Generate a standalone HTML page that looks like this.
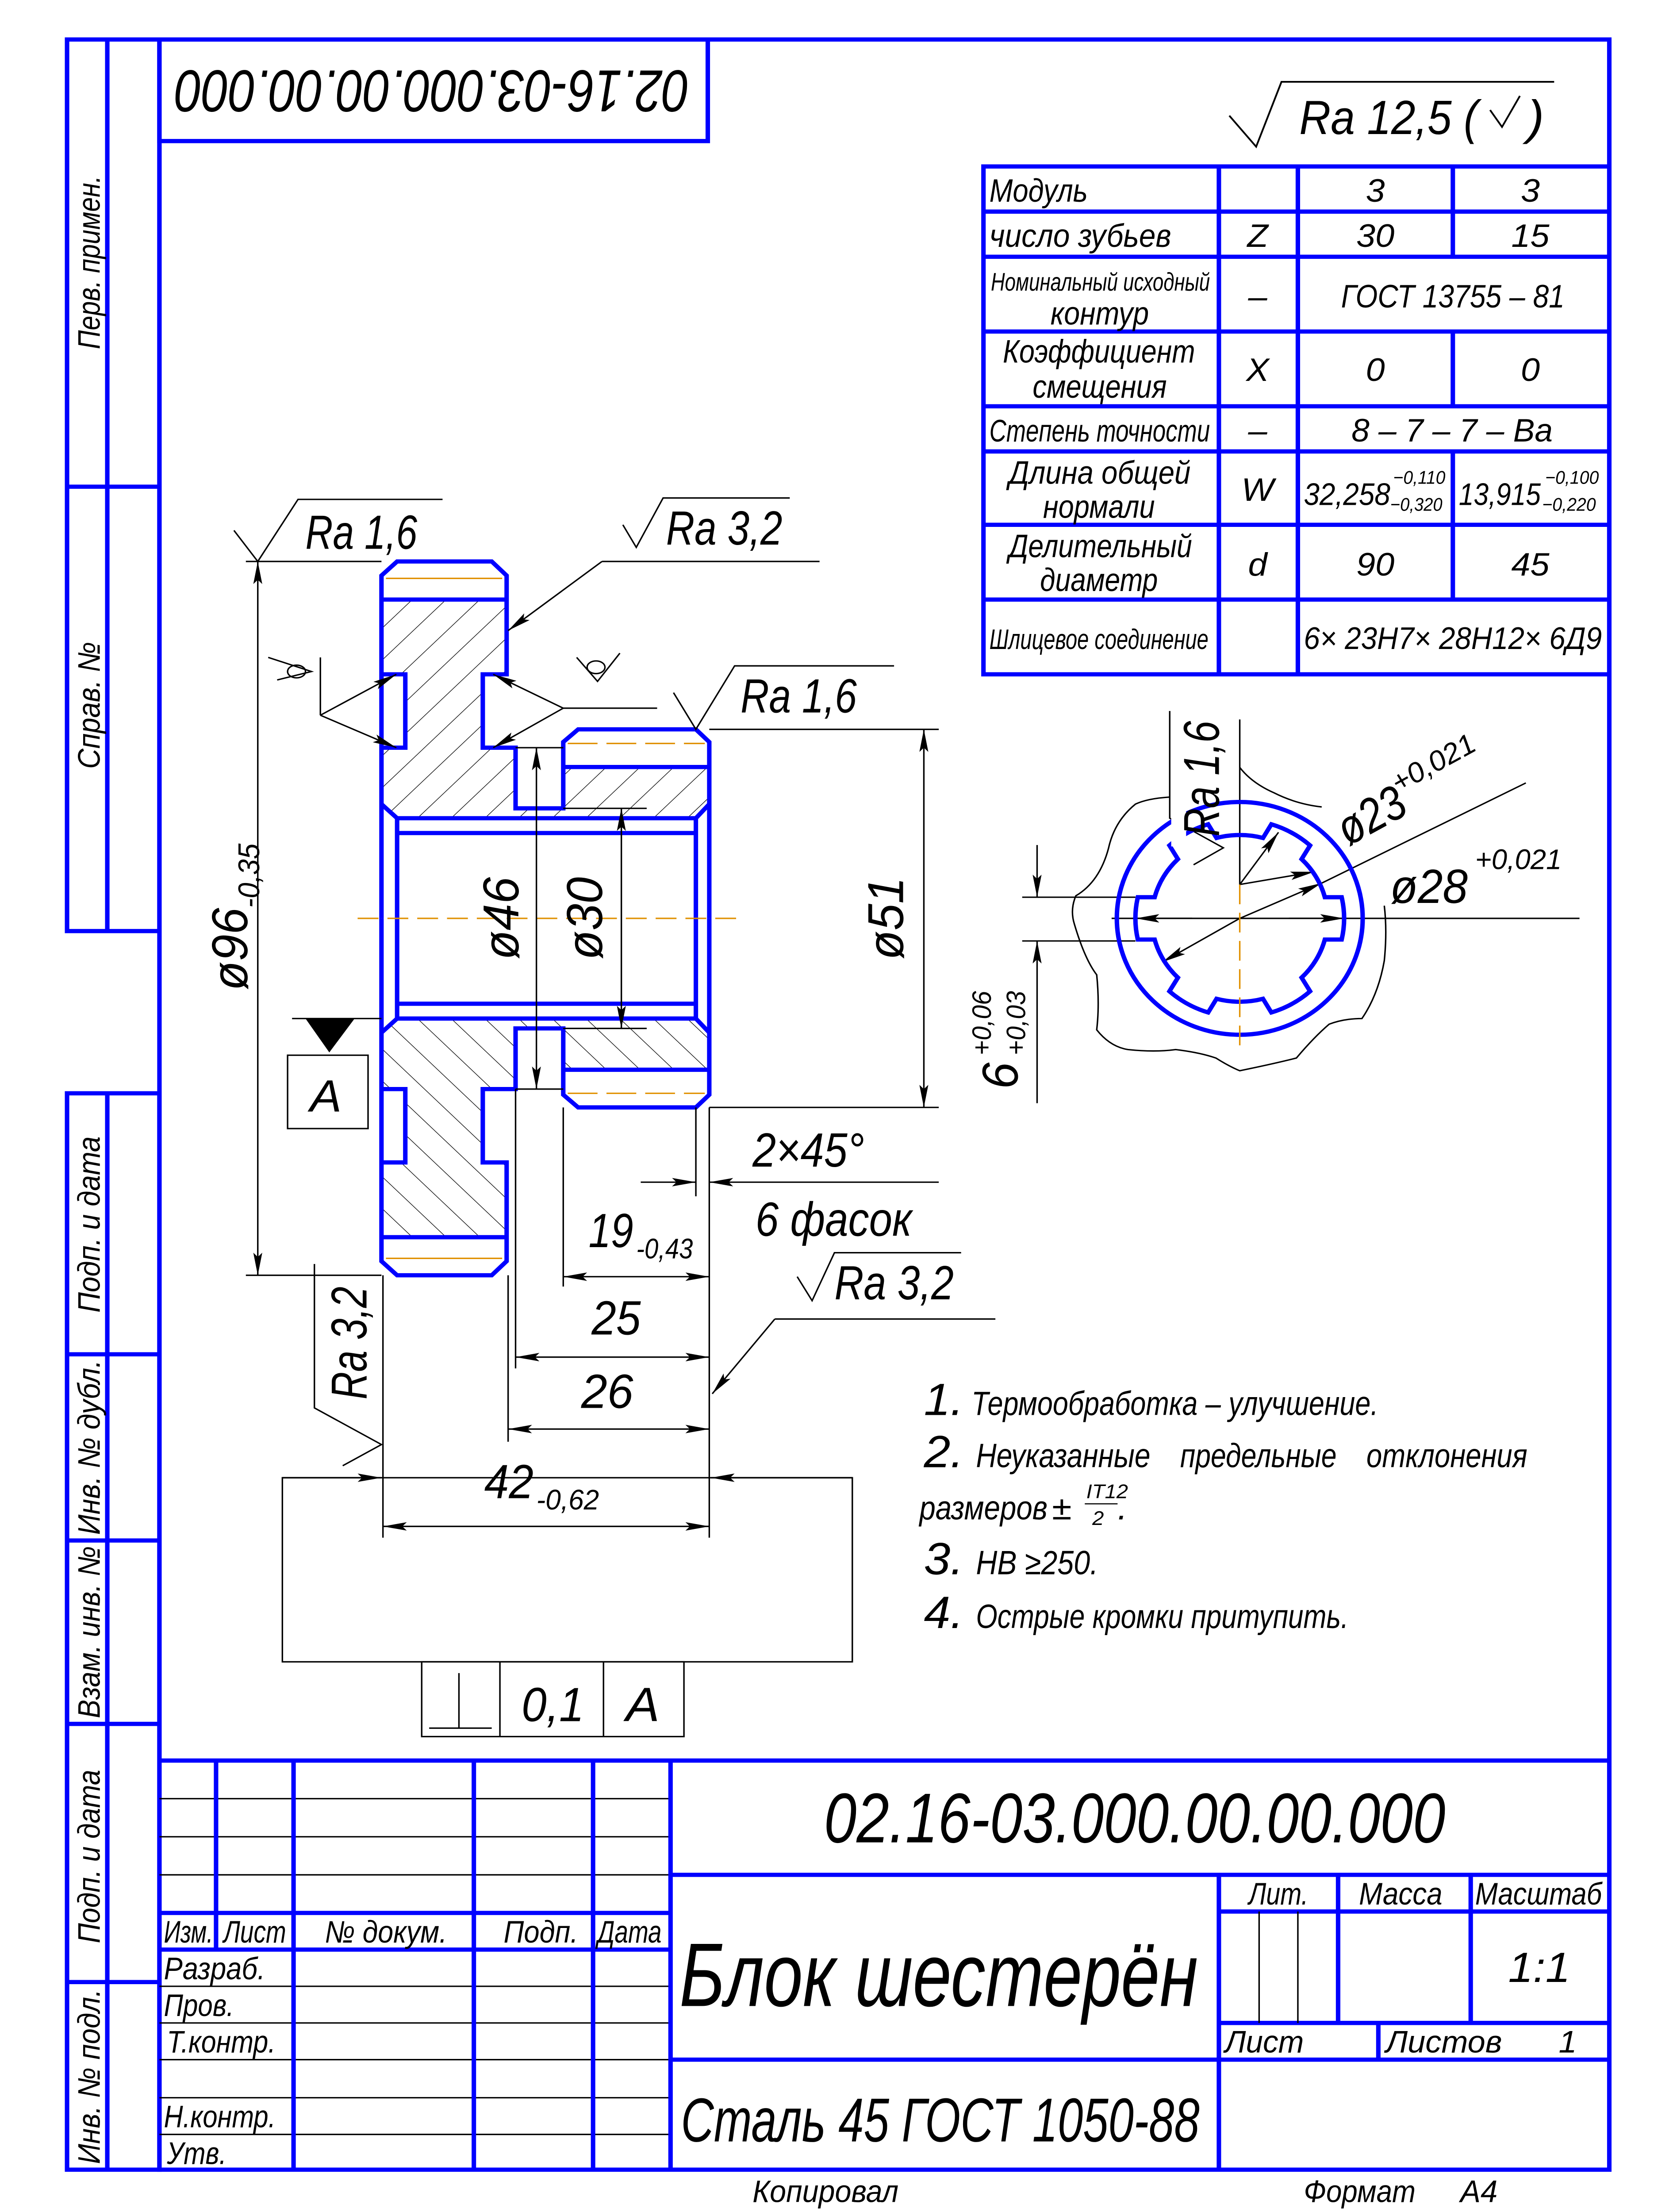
<!DOCTYPE html>
<html><head><meta charset="utf-8">
<style>
html,body{margin:0;padding:0;background:#fff;width:100vw;height:100vh;overflow:hidden;}
svg{display:block;width:100vw;height:100vh;}
text{font-family:"Liberation Sans Narrow","Liberation Sans","DejaVu Sans",sans-serif;font-style:italic;fill:#000;}
</style></head>
<body>
<svg xmlns="http://www.w3.org/2000/svg" viewBox="0 0 1110 1568" preserveAspectRatio="none">
<defs>
<marker id="ar" viewBox="0 0 16 6" refX="16" refY="3" markerWidth="16" markerHeight="6" markerUnits="userSpaceOnUse" orient="auto-start-reverse">
<path d="M0,0 L16,3 L0,6 L3,3 Z" fill="#000"/>
</marker>
<pattern id="h" patternUnits="userSpaceOnUse" width="16" height="16" patternTransform="rotate(45)">
<line x1="0" y1="0" x2="0" y2="16" stroke="#000" stroke-width="0.8"/>
</pattern>
</defs>
<rect width="1110" height="1568" fill="#fff"/>

<!-- FRAME -->
<g stroke="#0000ff" stroke-width="3" fill="none">
<rect x="107" y="28" width="973" height="1510"/>
<rect x="45" y="28" width="62" height="632"/>
<line x1="72" y1="28" x2="72" y2="660"/>
<line x1="45" y1="345" x2="107" y2="345"/>
<rect x="45" y="775" width="62" height="763"/>
<line x1="72" y1="775" x2="72" y2="1538"/>
<line x1="45" y1="960" x2="107" y2="960"/>
<line x1="45" y1="1092" x2="107" y2="1092"/>
<line x1="45" y1="1222" x2="107" y2="1222"/>
<line x1="45" y1="1405" x2="107" y2="1405"/>
<rect x="107" y="28" width="368" height="72"/>
</g>
<g font-size="21">
<text transform="translate(67,186) rotate(-90)" text-anchor="middle" textLength="123" lengthAdjust="spacingAndGlyphs">Перв. примен.</text>
<text transform="translate(67,500) rotate(-90)" text-anchor="middle" textLength="90" lengthAdjust="spacingAndGlyphs">Справ. №</text>
<text transform="translate(67,868) rotate(-90)" text-anchor="middle" textLength="125" lengthAdjust="spacingAndGlyphs">Подп. и дата</text>
<text transform="translate(67,1026) rotate(-90)" text-anchor="middle" textLength="124" lengthAdjust="spacingAndGlyphs">Инв. № дубл.</text>
<text transform="translate(67,1157) rotate(-90)" text-anchor="middle" textLength="122" lengthAdjust="spacingAndGlyphs">Взам. инв. №</text>
<text transform="translate(67,1316) rotate(-90)" text-anchor="middle" textLength="123" lengthAdjust="spacingAndGlyphs">Подп. и дата</text>
<text transform="translate(67,1472) rotate(-90)" text-anchor="middle" textLength="124" lengthAdjust="spacingAndGlyphs">Инв. № подл.</text>
</g>
<text transform="translate(290,50) rotate(180)" text-anchor="middle" font-size="42" textLength="345" lengthAdjust="spacingAndGlyphs">02.16-03.000.00.00.000</text>

<g stroke="#000" stroke-width="1.2" fill="none">
<polyline points="825,82 843,104 860,58 1043,58"/>
<polyline points="1000,78 1008,90 1020,68"/>
</g>
<text x="872" y="95" font-size="34" textLength="120" lengthAdjust="spacingAndGlyphs">Ra 12,5 (</text>
<text x="1025" y="95" font-size="34">)</text>

<!-- TABLE -->
<g stroke="#0000ff" stroke-width="3" fill="none">
<rect x="660" y="118" width="420" height="360"/>
<line x1="660" y1="150" x2="1080" y2="150"/>
<line x1="660" y1="182" x2="1080" y2="182"/>
<line x1="660" y1="235" x2="1080" y2="235"/>
<line x1="660" y1="288" x2="1080" y2="288"/>
<line x1="660" y1="320" x2="1080" y2="320"/>
<line x1="660" y1="372" x2="1080" y2="372"/>
<line x1="660" y1="425" x2="1080" y2="425"/>
<line x1="818" y1="118" x2="818" y2="478"/>
<line x1="871" y1="118" x2="871" y2="478"/>
<line x1="975" y1="118" x2="975" y2="182"/>
<line x1="975" y1="235" x2="975" y2="288"/>
<line x1="975" y1="320" x2="975" y2="425"/>
</g>
<g font-size="23">
<text x="664" y="143" textLength="66" lengthAdjust="spacingAndGlyphs">Модуль</text>
<text x="923" y="143" text-anchor="middle">3</text>
<text x="1027" y="143" text-anchor="middle">3</text>
<text x="664" y="175" textLength="122" lengthAdjust="spacingAndGlyphs">число зубьев</text>
<text x="844" y="175" text-anchor="middle">Z</text>
<text x="923" y="175" text-anchor="middle">30</text>
<text x="1027" y="175" text-anchor="middle">15</text>
<text x="665" y="206" font-size="18" textLength="147" lengthAdjust="spacingAndGlyphs">Номинальный исходный</text>
<text x="705" y="230" textLength="66" lengthAdjust="spacingAndGlyphs">контур</text>
<text x="844" y="218" text-anchor="middle">–</text>
<text x="900" y="218" textLength="150" lengthAdjust="spacingAndGlyphs">ГОСТ 13755 – 81</text>
<text x="673" y="257" textLength="129" lengthAdjust="spacingAndGlyphs">Коэффициент</text>
<text x="693" y="282" textLength="90" lengthAdjust="spacingAndGlyphs">смещения</text>
<text x="844" y="270" text-anchor="middle">X</text>
<text x="923" y="270" text-anchor="middle">0</text>
<text x="1027" y="270" text-anchor="middle">0</text>
<text x="664" y="313" font-size="22" textLength="148" lengthAdjust="spacingAndGlyphs">Степень точности</text>
<text x="844" y="313" text-anchor="middle">–</text>
<text x="907" y="313" textLength="135" lengthAdjust="spacingAndGlyphs">8 – 7 – 7 – Ва</text>
<text x="677" y="343" textLength="122" lengthAdjust="spacingAndGlyphs">Длина общей</text>
<text x="700" y="367" textLength="75" lengthAdjust="spacingAndGlyphs">нормали</text>
<text x="844" y="355" text-anchor="middle">W</text>
<text x="875" y="358" font-size="22" textLength="58" lengthAdjust="spacingAndGlyphs">32,258</text>
<text x="935" y="343" font-size="13" textLength="35" lengthAdjust="spacingAndGlyphs">−0,110</text>
<text x="933" y="362" font-size="13" textLength="35" lengthAdjust="spacingAndGlyphs">−0,320</text>
<text x="979" y="358" font-size="22" textLength="55" lengthAdjust="spacingAndGlyphs">13,915</text>
<text x="1037" y="343" font-size="13" textLength="36" lengthAdjust="spacingAndGlyphs">−0,100</text>
<text x="1035" y="362" font-size="13" textLength="36" lengthAdjust="spacingAndGlyphs">−0,220</text>
<text x="677" y="395" textLength="123" lengthAdjust="spacingAndGlyphs">Делительный</text>
<text x="698" y="419" textLength="79" lengthAdjust="spacingAndGlyphs">диаметр</text>
<text x="844" y="408" text-anchor="middle">d</text>
<text x="923" y="408" text-anchor="middle">90</text>
<text x="1027" y="408" text-anchor="middle">45</text>
<text x="664" y="460" font-size="20" textLength="147" lengthAdjust="spacingAndGlyphs">Шлицевое соединение</text>
<text x="875" y="460" font-size="22" textLength="200" lengthAdjust="spacingAndGlyphs">6× 23H7× 28H12× 6Д9</text>
</g>

<!-- PART DRAWING -->
<g id="half">
<path d="M256,425 L340,425 L340,478 L324,478 L324,530 L346,530 L346,573 L378,573 L378,543.7 L476,543.7 L476,570 L467,580 L266.5,580 L256,570 L256,530 L272,530 L272,478 L256,478 Z" fill="url(#h)"/>
<g stroke="#0000ff" stroke-width="3" fill="none" stroke-linejoin="miter">
<polyline points="256,651 256,408 266.5,398 330,398 340,408 340,478 324,478 324,530 346,530 346,573 378,573 378,526 388,517 467,517 476,526 476,651"/>
<polyline points="256,478 272,478 272,530 256,530"/>
<line x1="256" y1="425" x2="340" y2="425"/>
<line x1="378" y1="543.7" x2="476" y2="543.7"/>
<line x1="256" y1="570" x2="266.5" y2="580"/>
<line x1="476" y1="570" x2="467" y2="580"/>
<line x1="266.5" y1="580" x2="467" y2="580"/>
<line x1="266.5" y1="590.5" x2="467" y2="590.5"/>
<line x1="266.5" y1="580" x2="266.5" y2="651"/>
<line x1="467" y1="580" x2="467" y2="651"/>
</g>
<line x1="259" y1="410" x2="337" y2="410" stroke="#e09000" stroke-width="1"/>
<line x1="381" y1="527" x2="473" y2="527" stroke="#e09000" stroke-width="1" stroke-dasharray="20,6"/>
</g>
<use href="#half" transform="matrix(1,0,0,-1,0,1302)"/>
<line x1="240" y1="651" x2="495" y2="651" stroke="#e09000" stroke-width="1" stroke-dasharray="14,6"/>

<g stroke="#000" stroke-width="1" fill="none">
<line x1="165" y1="398" x2="256" y2="398"/>
<line x1="165" y1="904" x2="256" y2="904"/>
<line x1="173" y1="398" x2="173" y2="904" marker-start="url(#ar)" marker-end="url(#ar)"/>
<polyline points="157,376 173,398 200,354 297,354"/>
<polyline points="418,372 427,388 445,353 530,353"/>
<polyline points="550,398 404,398" />
<line x1="404" y1="398" x2="341" y2="447" marker-end="url(#ar)"/>
<line x1="215" y1="466" x2="215" y2="507"/>
<line x1="215" y1="507" x2="266" y2="478" marker-end="url(#ar)"/>
<line x1="215" y1="507" x2="266" y2="530" marker-end="url(#ar)"/>
<polyline points="180,466 209,476 186,482"/>
<ellipse cx="199" cy="476" rx="6" ry="4.5"/>
<line x1="441" y1="502" x2="378" y2="502"/>
<line x1="378" y1="502" x2="331" y2="478" marker-end="url(#ar)"/>
<line x1="378" y1="502" x2="331" y2="530" marker-end="url(#ar)"/>
<polyline points="387,466 401,483 416,463"/>
<ellipse cx="400" cy="473" rx="6" ry="4.5"/>
<polyline points="452,491 467,517 493,472 600,472"/>
<line x1="476" y1="517" x2="630" y2="517"/>
<line x1="476" y1="785" x2="630" y2="785"/>
<line x1="620" y1="517" x2="620" y2="785" marker-start="url(#ar)" marker-end="url(#ar)"/>
<line x1="346" y1="530" x2="378" y2="530"/>
<line x1="346" y1="772" x2="378" y2="772"/>
<line x1="360" y1="530" x2="360" y2="772" marker-start="url(#ar)" marker-end="url(#ar)"/>
<line x1="378" y1="573" x2="434" y2="573"/>
<line x1="378" y1="729" x2="434" y2="729"/>
<line x1="417" y1="573" x2="417" y2="729" marker-start="url(#ar)" marker-end="url(#ar)"/>
<line x1="196" y1="722" x2="256" y2="722"/>
<rect x="193" y="748" width="54" height="52"/>
<line x1="467" y1="785" x2="467" y2="848"/>
<line x1="476" y1="785" x2="476" y2="1090"/>
<line x1="430" y1="838" x2="467" y2="838" marker-end="url(#ar)"/>
<line x1="630" y1="838" x2="476" y2="838" marker-end="url(#ar)"/>
<line x1="378" y1="785" x2="378" y2="912"/>
<line x1="378" y1="905" x2="476" y2="905" marker-start="url(#ar)" marker-end="url(#ar)"/>
<line x1="346" y1="772" x2="346" y2="970"/>
<line x1="346" y1="962" x2="476" y2="962" marker-start="url(#ar)" marker-end="url(#ar)"/>
<line x1="341" y1="904" x2="341" y2="1022"/>
<line x1="341" y1="1013" x2="476" y2="1013" marker-start="url(#ar)" marker-end="url(#ar)"/>
<line x1="257" y1="904" x2="257" y2="1090"/>
<line x1="257" y1="1082" x2="476" y2="1082" marker-start="url(#ar)" marker-end="url(#ar)"/>
<polyline points="211,896 211,998 256,1024 230,1039"/>
<polyline points="535,905 545,922 560,888 645,888"/>
<line x1="668" y1="935" x2="520" y2="935"/>
<line x1="520" y1="935" x2="478" y2="988" marker-end="url(#ar)"/>
<rect x="189.5" y="1047.5" width="382.5" height="130.5"/>
<line x1="189.5" y1="1047.5" x2="256" y2="1047.5" marker-end="url(#ar)"/>
<line x1="572" y1="1047.5" x2="477" y2="1047.5" marker-end="url(#ar)"/>
<rect x="283" y="1178" width="176" height="53"/>
<line x1="335.5" y1="1178" x2="335.5" y2="1231"/>
<line x1="405" y1="1178" x2="405" y2="1231"/>
<line x1="288" y1="1225" x2="330" y2="1225"/>
<line x1="308" y1="1186" x2="308" y2="1225"/>
</g>
<path d="M205,722 L238,722 L221,746 Z" fill="#000"/>

<g font-size="34">
<text x="205" y="389" textLength="75" lengthAdjust="spacingAndGlyphs">Ra 1,6</text>
<text x="447" y="386" textLength="78" lengthAdjust="spacingAndGlyphs">Ra 3,2</text>
<text x="497" y="505" textLength="78" lengthAdjust="spacingAndGlyphs">Ra 1,6</text>
<text x="560" y="921" textLength="80" lengthAdjust="spacingAndGlyphs">Ra 3,2</text>
<text transform="translate(246,952) rotate(-90)" text-anchor="middle" textLength="80" lengthAdjust="spacingAndGlyphs">Ra 3,2</text>
<text x="208" y="788" font-size="32">A</text>
<text transform="translate(166,650) rotate(-90)" text-anchor="middle">ø96<tspan font-size="20" dy="8">-0,35</tspan></text>
<text transform="translate(348,651) rotate(-90)" text-anchor="middle">ø46</text>
<text transform="translate(404,651) rotate(-90)" text-anchor="middle">ø30</text>
<text transform="translate(606,651) rotate(-90)" text-anchor="middle">ø51</text>
<text x="505" y="827" textLength="75" lengthAdjust="spacingAndGlyphs">2×45°</text>
<text x="507" y="876" textLength="105" lengthAdjust="spacingAndGlyphs">6 фасок</text>
<text x="395" y="884" textLength="30" lengthAdjust="spacingAndGlyphs">19</text>
<text x="427" y="892" font-size="20" textLength="38" lengthAdjust="spacingAndGlyphs">-0,43</text>
<text x="397" y="946" textLength="33" lengthAdjust="spacingAndGlyphs">25</text>
<text x="390" y="998" textLength="35" lengthAdjust="spacingAndGlyphs">26</text>
<text x="325" y="1062" textLength="33" lengthAdjust="spacingAndGlyphs">42</text>
<text x="360" y="1070" font-size="20" textLength="42" lengthAdjust="spacingAndGlyphs">-0,62</text>
<text x="350" y="1220" textLength="42" lengthAdjust="spacingAndGlyphs">0,1</text>
<text x="420" y="1220">A</text>
</g>

<!-- SPLINE SECTION -->
<g stroke="#000" stroke-width="1" fill="none">
<path d="M832,544 Q840,555 855,562 Q870,570 887,572"/>
<path d="M785,565 Q770,566 762,570 Q748,582 744,601 Q738,625 722,635 Q718,645 721,655 Q728,680 736,691 Q738,712 736,730 Q745,742 757,744 Q775,746 789,744 Q805,746 816,750 Q825,756 832,759 Q855,754 870,750 Q882,735 892,726 Q902,722 914,722 Q925,705 929,681 Q931,660 929,642"/>
<line x1="686" y1="636" x2="762" y2="636"/>
<line x1="686" y1="667" x2="762" y2="667"/>
<line x1="696" y1="599" x2="696" y2="636" marker-end="url(#ar)"/>
<line x1="696" y1="782" x2="696" y2="667" marker-end="url(#ar)"/>
<line x1="832" y1="510" x2="832" y2="627"/>
<line x1="746" y1="651" x2="1060" y2="651"/>
<line x1="800" y1="651" x2="762" y2="651" marker-end="url(#ar)"/>
<line x1="865" y1="651" x2="902" y2="651" marker-end="url(#ar)"/>
<line x1="832" y1="651" x2="780" y2="682" marker-end="url(#ar)"/>
<line x1="832" y1="651" x2="887" y2="626" marker-end="url(#ar)"/>
<line x1="887" y1="626" x2="1024" y2="555"/>
<line x1="832" y1="627" x2="858" y2="590" marker-end="url(#ar)"/>
<line x1="832" y1="627" x2="882" y2="618" marker-end="url(#ar)"/>
<polyline points="785,504 785,580 821,601 801,613"/>
</g>
<circle cx="832" cy="651" r="82.5" fill="none" stroke="#0000ff" stroke-width="3"/>
<path fill="none" stroke="#0000ff" stroke-width="3" d="M889.1,636 L900.4,636 A70,70 0 0 1 900.4,666 L889.1,666 A59,59 0 0 1 873.5,693 L879.2,702.7 A70,70 0 0 1 853.2,717.7 L847.6,708 A59,59 0 0 1 816.4,708 L810.8,717.7 A70,70 0 0 1 784.8,702.7 L790.5,693 A59,59 0 0 1 774.9,666 L763.6,666 A70,70 0 0 1 763.6,636 L774.9,636 A59,59 0 0 1 790.5,609 L784.8,599.3 A70,70 0 0 1 810.8,584.3 L816.4,594 A59,59 0 0 1 847.6,594 L853.2,584.3 A70,70 0 0 1 879.2,599.3 L873.5,609 A59,59 0 0 1 889.1,636 Z"/>
<line x1="832" y1="627" x2="832" y2="745" stroke="#e09000" stroke-width="1" stroke-dasharray="14,6"/>
<rect x="786" y="560" width="10" height="40" fill="#fff"/>
<g font-size="34">
<text transform="translate(818,552) rotate(-90)" text-anchor="middle" textLength="82" lengthAdjust="spacingAndGlyphs">Ra 1,6</text>
<text transform="translate(905,600) rotate(-30)"><tspan textLength="48" lengthAdjust="spacingAndGlyphs">ø23</tspan><tspan font-size="20" dy="-16">+0,021</tspan></text>
<text x="933" y="640" textLength="52" lengthAdjust="spacingAndGlyphs">ø28</text>
<text x="990" y="616" font-size="20" textLength="58" lengthAdjust="spacingAndGlyphs">+0,021</text>
<text transform="translate(683,772) rotate(-90)">6</text>
<text transform="translate(665,748) rotate(-90)" font-size="18">+0,06</text>
<text transform="translate(688,748) rotate(-90)" font-size="18">+0,03</text>
</g>

<!-- NOTES -->
<g font-size="24">
<text x="620" y="1003" font-size="32">1.</text>
<text x="652" y="1003" textLength="273" lengthAdjust="spacingAndGlyphs">Термообработка – улучшение.</text>
<text x="620" y="1040" font-size="32">2.</text>
<text x="655" y="1040" textLength="117" lengthAdjust="spacingAndGlyphs">Неуказанные</text>
<text x="792" y="1040" textLength="105" lengthAdjust="spacingAndGlyphs">предельные</text>
<text x="917" y="1040" textLength="108" lengthAdjust="spacingAndGlyphs">отклонения</text>
<text x="617" y="1077" textLength="86" lengthAdjust="spacingAndGlyphs">размеров</text>
<text x="706" y="1077">±</text>
<text x="729" y="1062" font-size="14">IT12</text>
<line x1="728" y1="1066" x2="750" y2="1066" stroke="#000" stroke-width="0.8"/>
<text x="733" y="1081" font-size="14">2</text>
<text x="750" y="1077">.</text>
<text x="620" y="1116" font-size="32">3.</text>
<text x="655" y="1116" textLength="82" lengthAdjust="spacingAndGlyphs">HB ≥250.</text>
<text x="620" y="1154" font-size="32">4.</text>
<text x="655" y="1154" textLength="250" lengthAdjust="spacingAndGlyphs">Острые кромки притупить.</text>
</g>

<!-- TITLE BLOCK -->
<g stroke="#000" stroke-width="1">
<line x1="107" y1="1275" x2="450" y2="1275"/>
<line x1="107" y1="1302" x2="450" y2="1302"/>
<line x1="107" y1="1329" x2="450" y2="1329"/>
<line x1="107" y1="1408" x2="450" y2="1408"/>
<line x1="107" y1="1434" x2="450" y2="1434"/>
<line x1="107" y1="1460" x2="450" y2="1460"/>
<line x1="107" y1="1487" x2="450" y2="1487"/>
<line x1="107" y1="1513" x2="450" y2="1513"/>
</g>
<g stroke="#0000ff" stroke-width="3" fill="none">
<line x1="107" y1="1248" x2="1080" y2="1248"/>
<line x1="107" y1="1356" x2="450" y2="1356"/>
<line x1="107" y1="1382" x2="450" y2="1382"/>
<line x1="145" y1="1248" x2="145" y2="1382"/>
<line x1="197" y1="1248" x2="197" y2="1538"/>
<line x1="318" y1="1248" x2="318" y2="1538"/>
<line x1="398" y1="1248" x2="398" y2="1538"/>
<line x1="450" y1="1248" x2="450" y2="1538"/>
<line x1="450" y1="1329" x2="1080" y2="1329"/>
<line x1="450" y1="1460" x2="1080" y2="1460"/>
<line x1="818" y1="1329" x2="818" y2="1538"/>
<line x1="898" y1="1329" x2="898" y2="1434"/>
<line x1="987" y1="1329" x2="987" y2="1434"/>
<line x1="818" y1="1355" x2="1080" y2="1355"/>
<line x1="818" y1="1434" x2="1080" y2="1434"/>
<line x1="925" y1="1434" x2="925" y2="1460"/>
</g>
<g stroke="#000" stroke-width="1">
<line x1="845" y1="1355" x2="845" y2="1434"/>
<line x1="871" y1="1355" x2="871" y2="1434"/>
</g>
<g font-size="22">
<text x="110" y="1377" textLength="33" lengthAdjust="spacingAndGlyphs">Изм.</text>
<text x="150" y="1377" textLength="42" lengthAdjust="spacingAndGlyphs">Лист</text>
<text x="218" y="1377" textLength="82" lengthAdjust="spacingAndGlyphs">№ докум.</text>
<text x="338" y="1377" textLength="50" lengthAdjust="spacingAndGlyphs">Подп.</text>
<text x="401" y="1377" textLength="43" lengthAdjust="spacingAndGlyphs">Дата</text>
<text x="110" y="1403" textLength="68" lengthAdjust="spacingAndGlyphs">Разраб.</text>
<text x="110" y="1429" textLength="47" lengthAdjust="spacingAndGlyphs">Пров.</text>
<text x="112" y="1455" textLength="73" lengthAdjust="spacingAndGlyphs">Т.контр.</text>
<text x="110" y="1508" textLength="75" lengthAdjust="spacingAndGlyphs">Н.контр.</text>
<text x="112" y="1534" textLength="40" lengthAdjust="spacingAndGlyphs">Утв.</text>
<text x="838" y="1350" textLength="40" lengthAdjust="spacingAndGlyphs">Лит.</text>
<text x="912" y="1350" textLength="56" lengthAdjust="spacingAndGlyphs">Масса</text>
<text x="990" y="1350" textLength="85" lengthAdjust="spacingAndGlyphs">Масштаб</text>
<text x="1033" y="1405" text-anchor="middle" font-size="30">1:1</text>
<text x="822" y="1455" textLength="53" lengthAdjust="spacingAndGlyphs">Лист</text>
<text x="930" y="1455" textLength="78" lengthAdjust="spacingAndGlyphs">Листов</text>
<text x="1046" y="1455">1</text>
<text x="505" y="1561" textLength="98" lengthAdjust="spacingAndGlyphs">Копировал</text>
<text x="875" y="1561" textLength="75" lengthAdjust="spacingAndGlyphs">Формат</text>
<text x="980" y="1561" textLength="25" lengthAdjust="spacingAndGlyphs">А4</text>
</g>
<text x="553" y="1306" font-size="50" textLength="417" lengthAdjust="spacingAndGlyphs">02.16-03.000.00.00.000</text>
<text x="456" y="1422" font-size="64" textLength="348" lengthAdjust="spacingAndGlyphs">Блок шестерён</text>
<text x="457" y="1518" font-size="44" textLength="348" lengthAdjust="spacingAndGlyphs">Сталь 45 ГОСТ 1050-88</text>
</svg>
</body></html>
